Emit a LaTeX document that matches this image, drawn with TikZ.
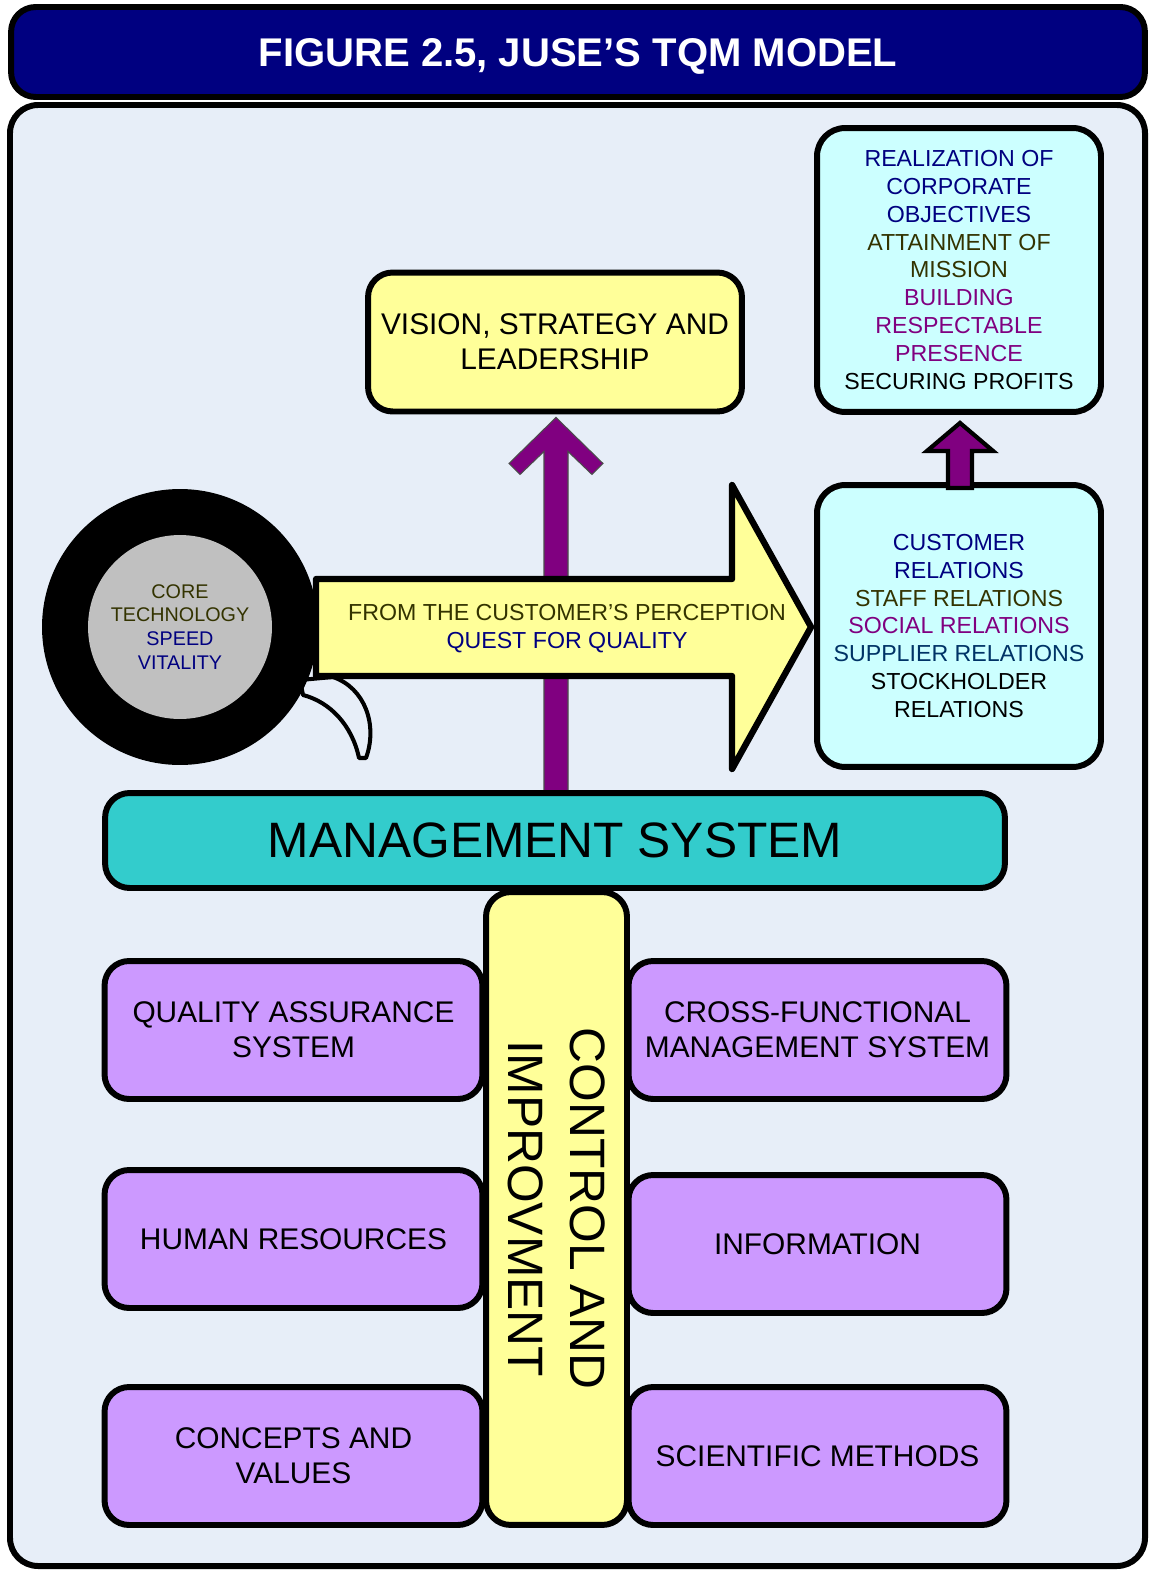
\documentclass[tikz,border=0pt]{standalone}
\usepackage{fontspec}
\setmainfont{Liberation Sans}

\definecolor{tqmnavy}{HTML}{000080}
\definecolor{tqmolive}{HTML}{333300}
\definecolor{tqmpurple}{HTML}{800080}
\definecolor{tqmteal}{HTML}{003366}
\definecolor{panelblue}{HTML}{E7EEF8}
\definecolor{boxyellow}{HTML}{FFFF99}
\definecolor{boxcyan}{HTML}{CCFFFF}
\definecolor{mgmtteal}{HTML}{33CCCC}
\definecolor{boxviolet}{HTML}{CC99FF}
\definecolor{coregray}{HTML}{C0C0C0}

\tikzset{
	box/.style={draw=black, line width=3.4pt, rounded corners=14pt, align=center, inner sep=2pt},
	visionbox/.style={box, fill=boxyellow, minimum width=7.48cm, minimum height=2.78cm, font=\fontsize{17}{20}\selectfont},
	goalbox/.style={box, fill=boxcyan, rounded corners=16pt, minimum width=5.68cm, font=\fontsize{13.2}{15.9}\selectfont},
	pillar/.style={box, fill=boxviolet, minimum width=7.56cm, minimum height=2.76cm, font=\fontsize{17}{20}\selectfont},
	liftarrow/.style={fill=tqmpurple, draw=black!70, line width=0.6pt},
	stubarrow/.style={fill=tqmpurple, draw=black, line width=2.4pt},
	questarrow/.style={fill=boxyellow, draw=black, line width=3.6pt, line join=round},
	tail/.style={fill=panelblue, draw=black, line width=2.3pt, line join=round},
}

\begin{document}
\begin{tikzpicture}[x=0.02cm, y=-0.02cm]

	\fill[white] (0,0) rectangle (1152,1571);
	\useasboundingbox (0,0) rectangle (1152,1571);

	% frame and heading
	\draw[fill=panelblue, line width=3.4pt, rounded corners=16pt] (10,105) rectangle (1145,1566);
	\node[box, fill=tqmnavy, minimum width=22.68cm, minimum height=1.8cm, text=white,
		text height=16.3pt, text depth=0pt,
		font=\fontsize{22.8}{27}\selectfont\bfseries] (title) at (578,52) {FIGURE 2.5, JUSE’S TQM MODEL};

	\node[visionbox] (vision) at (555,342) {VISION, STRATEGY AND\\LEADERSHIP};

	\node[goalbox, minimum height=5.68cm] (goals) at (959,270) {%
		\textcolor{tqmnavy}{REALIZATION OF}\\ \textcolor{tqmnavy}{CORPORATE}\\ \textcolor{tqmnavy}{OBJECTIVES}\\
		\textcolor{tqmolive}{ATTAINMENT OF}\\ \textcolor{tqmolive}{MISSION}\\
		\textcolor{tqmpurple}{BUILDING}\\ \textcolor{tqmpurple}{RESPECTABLE}\\ \textcolor{tqmpurple}{PRESENCE}\\
		SECURING PROFITS};

	\node[goalbox, minimum height=5.64cm] (relations) at (959,626) {%
		\textcolor{tqmnavy}{CUSTOMER}\\ \textcolor{tqmnavy}{RELATIONS}\\
		\textcolor{tqmolive}{STAFF RELATIONS}\\
		\textcolor{tqmpurple}{SOCIAL RELATIONS}\\
		\textcolor{tqmteal}{SUPPLIER RELATIONS}\\
		STOCKHOLDER\\ RELATIONS};

	% purple arrow up to vision
	\begin{scope}[shift={(vision.south)}]
	\draw[liftarrow] (1,3) -- (48,49) -- (37,60) -- (13,37) -- (13,385) -- (-11,385)
		-- (-11,37) -- (-35,60) -- (-46,49) -- cycle;
	\end{scope}

	% core technology with its tail
	\coordinate (C) at (180,627);
	\begin{scope}[shift={(C)}]
	\draw[tail] (123,68) .. controls (150,75) and (172,98) .. (179,131) -- (186,131)
		.. controls (198,98) and (185,61) .. (153,50) -- (120,53) -- cycle;
	\end{scope}

	\begin{scope}[shift={(relations.west)}]
	\draw[questarrow] (-498,-47) -- (-82,-47) -- (-82,-141) -- (-3,1) -- (-82,143)
		-- (-82,50) -- (-498,50) -- cycle;
	\end{scope}
	\node[align=center, font=\fontsize{13.2}{15.9}\selectfont] (quest) at (567,629)
		{\textcolor{tqmolive}{FROM THE CUSTOMER’S PERCEPTION}\\ \textcolor{tqmnavy}{QUEST FOR QUALITY}};

	\node[circle, fill=black, minimum size=5.52cm, inner sep=0pt] (ring) at (C) {};
	\node[circle, fill=coregray, minimum size=3.68cm, inner sep=0pt, align=center,
		font=\fontsize{11.25}{13.6}\selectfont] (core) at (ring.center)
		{\textcolor{tqmolive}{CORE}\\ \textcolor{tqmolive}{TECHNOLOGY}\\ \textcolor{tqmnavy}{SPEED}\\ \textcolor{tqmnavy}{VITALITY}};

	% small arrow between the two cyan boxes
	\begin{scope}[shift={(goals.south)}]
	\draw[stubarrow] (1,8) -- (34,36) -- (13,36) -- (13,73) -- (-11,73) -- (-11,36) -- (-32,36) -- cycle;
	\end{scope}

	\node[box, fill=mgmtteal, minimum width=18cm, minimum height=1.9cm,
		font=\fontsize{28.3}{34}\selectfont] (mgmt) at (555,840.5) {MANAGEMENT SYSTEM};

	% pillars
	\node[pillar] (qa) at (293.5,1030) {QUALITY ASSURANCE\\SYSTEM};
	\node[pillar] (hr) at (293.5,1239) {HUMAN RESOURCES};
	\node[pillar] (cv) at (293.5,1456) {CONCEPTS AND\\VALUES};
	\node[pillar] (cf) at (817.5,1030) {CROSS-FUNCTIONAL\\MANAGEMENT SYSTEM};
	\node[pillar] (info) at (817.5,1244) {INFORMATION};
	\node[pillar] (sm) at (817.5,1456) {SCIENTIFIC METHODS};

	\node[box, fill=boxyellow, rotate=-90, minimum width=12.66cm, minimum height=2.82cm,
		font=\fontsize{28.3}{35.7}\selectfont] (ctrl) at (556.5,1208.5) {CONTROL AND\\IMPROVMENT};

\end{tikzpicture}
\end{document}
